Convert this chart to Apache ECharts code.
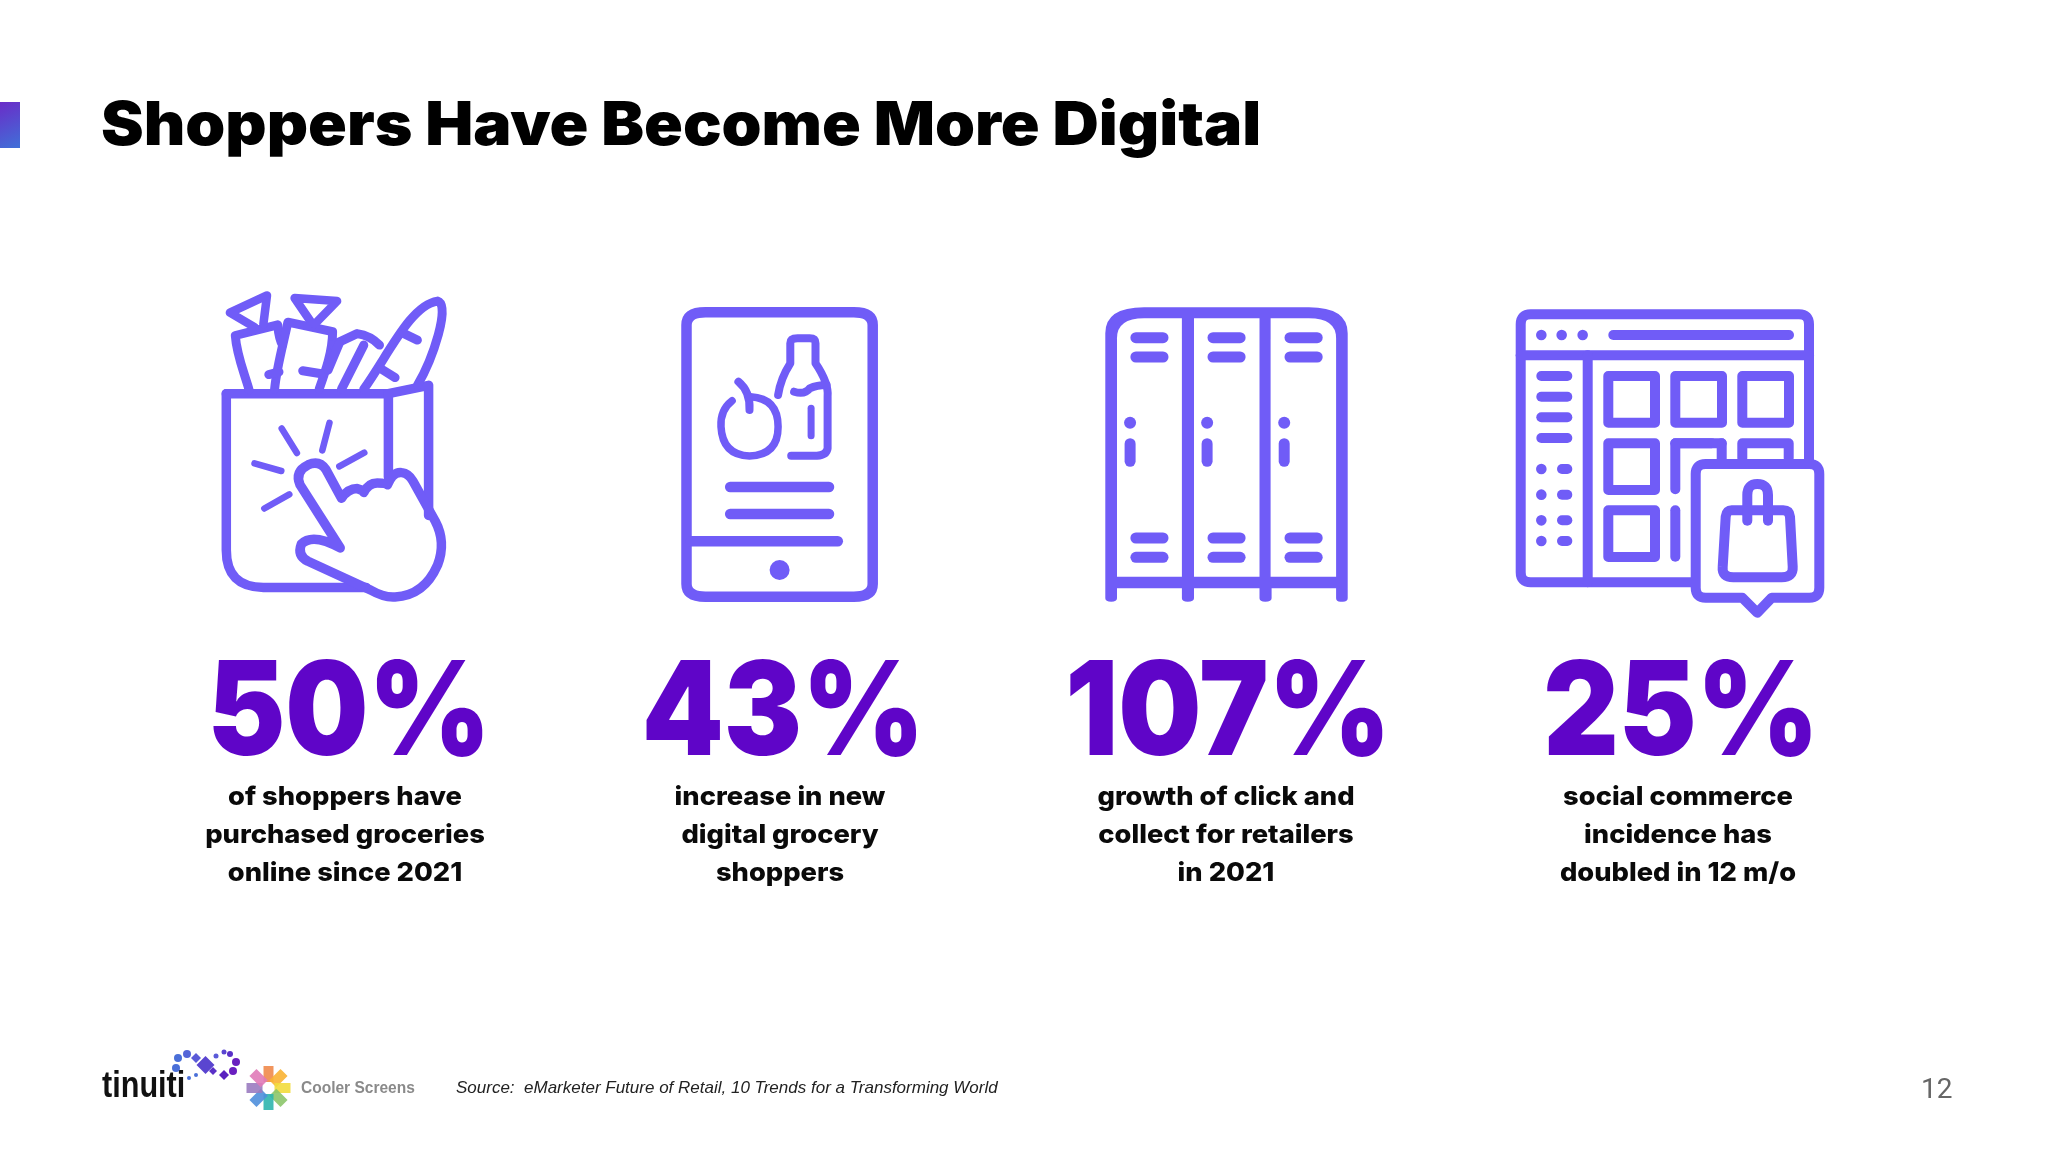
<!DOCTYPE html>
<html>
<head>
<meta charset="utf-8">
<title>Shoppers Have Become More Digital</title>
<style>
  html, body { margin: 0; padding: 0; background: #fff; }
  #chart { width: 2048px; height: 1152px; }
</style>
<script src="https://cdn.jsdelivr.net/npm/echarts@6/dist/echarts.min.js"></script>
</head>
<body>
<div id="chart"></div>
<script>
const titleText = 'Shoppers Have Become More Digital';
const statValues = [50, 43, 107, 25];
const statCaptions = [
  ['of shoppers have', 'purchased groceries', 'online since 2021'],
  ['increase in new', 'digital grocery', 'shoppers'],
  ['growth of click and', 'collect for retailers', 'in 2021'],
  ['social commerce', 'incidence has', 'doubled in 12 m/o']
];
const sourceText = 'Source:  eMarketer Future of Retail, 10 Trends for a Transforming World';
const pageNumber = '12';

const ICON = '#705cf7';
const NUM = '#5f05c8';
const els = [];

// icon paths were traced on crops, so map them back to page pixels
function mapPath(d, ox, oy, fx, fy) {
  let isX = true;
  return d.replace(/-?\d+(\.\d+)?/g, function (n) {
    const v = isX ? ox + n / fx : oy + n / fy;
    isX = !isX;
    return v.toFixed(1);
  });
}

function stroke(d, w, fill, box) {
  els.push({
    type: 'path',
    shape: { pathData: mapPath(d, box[0], box[1], box[2], box[3]) },
    style: { fill: fill || 'none', stroke: ICON, lineWidth: w, lineCap: 'round', lineJoin: 'round' }
  });
}

function solid(d, color, box) {
  els.push({
    type: 'path',
    shape: { pathData: mapPath(d, box[0], box[1], box[2], box[3]) },
    style: { fill: color }
  });
}

function dot(x, y, r, box, color) {
  els.push({
    type: 'circle',
    shape: { cx: box[0] + x / box[2], cy: box[1] + y / box[3], r: r },
    style: { fill: color || ICON }
  });
}

function text(str, x, y, font, fill, align, sx) {
  els.push({
    type: 'text',
    x: x,
    y: y,
    scaleX: sx || 1,
    style: { text: str, x: 0, y: 0, font: font, fill: fill, textAlign: align || 'center', textVerticalAlign: 'middle' }
  });
}

// corner block
els.push({
  type: 'rect',
  shape: { x: 0, y: 102, width: 20, height: 46 },
  style: {
    fill: new echarts.graphic.LinearGradient(0, 0, 1, 1, [
      { offset: 0, color: '#6a2cc8' },
      { offset: 1, color: '#4070d8' }
    ])
  }
});

text(titleText, 101, 127, '900 60px Inter', '#000', 'left', 1.068);

// bag icon
const bagBox = [0, 60, 2.24, 2.613];
stroke('M507 872 L507 1280 Q507 1378 590 1378 L820 1378', 9.5, null, bagBox);
stroke('M507 872 L870 872 L960 850 L960 1190', 9.5, null, bagBox);
stroke('M870 872 L870 1090', 9.5, null, bagBox);
stroke('M762 1275 L672 1110 Q660 1075 690 1058 Q715 1045 730 1070 L765 1145 Q780 1120 800 1120 Q815 1125 815 1130 Q825 1105 845 1105 Q865 1105 868 1110 Q880 1075 900 1078 Q915 1080 925 1100 L975 1205 Q1000 1260 980 1320 Q950 1400 885 1403 Q860 1405 830 1385 L690 1310 Q665 1295 675 1265 Q700 1235 762 1275', 9.5, null, bagBox);
['M631 963 L665 1027', 'M738 948 L722 1020', 'M816 1026 L760 1062', 'M570 1054 L630 1074', 'M648 1135 L592 1172'].forEach(function (d) {
  stroke(d, 6.5, null, bagBox);
});
stroke('M558 862 C545 810 530 770 527 720 L622 692 Q625 730 633 745', 9, null, bagBox);
stroke('M590 690 L598 615 L515 660 L570 698', 8.5, null, bagBox);
stroke('M615 860 C620 800 635 740 645 685 L745 710 C745 760 730 810 715 860', 9, null, bagBox);
stroke('M695 682 L660 622 L755 630 L705 690', 8.5, null, bagBox);
stroke('M678 812 L720 820', 9, null, bagBox);
stroke('M602 822 L625 815', 9, null, bagBox);
stroke('M745 745 L800 715 Q830 720 850 745', 9, null, bagBox);
stroke('M765 860 L815 745', 9, null, bagBox);
stroke('M760 740 L735 810', 9, null, bagBox);
stroke('M815 860 C870 770 920 640 980 630 C1010 640 970 780 935 850', 9, null, bagBox);
stroke('M905 715 L935 732', 9, null, bagBox);
stroke('M855 808 L885 830', 9, null, bagBox);

// tablet icon
const midBox = [640, 280, 2.063, 3];
stroke('M135 97 L441 97 Q480 97 480 135 L480 912 Q480 950 441 950 L135 950 Q96 950 96 912 L96 135 Q96 97 135 97 Z', 10.5, null, midBox);
stroke('M105 784 L408 784', 10.5, null, midBox);
stroke('M186 621 L390 621', 10.5, null, midBox);
stroke('M186 702 L390 702', 10.5, null, midBox);
dot(288, 870, 10, midBox);
stroke('M190 362 Q165 390 167 440 Q170 525 226 528 Q285 525 285 440 Q285 355 228 350', 7.5, null, midBox);
stroke('M203 305 Q228 335 226 390', 8, null, midBox);
stroke('M285 345 Q290 295 310 250 L310 190 Q310 175 325 175 L350 175 Q362 175 362 190 L362 250 Q390 310 387 350 L387 505 Q385 525 365 527 L312 527', 8, null, midBox);
stroke('M318 335 Q340 345 350 325 Q365 315 385 315', 8, null, midBox);
stroke('M353 385 L353 467', 7, null, midBox);

// locker icon
solid('M960 160 Q960 82 1040 82 L1380 82 Q1460 82 1460 160 L1460 955 Q1460 965 1450 965 L1445 965 Q1436 965 1436 955 L1436 925 L1303 925 L1303 955 Q1303 965 1290 965 Q1278 965 1278 955 L1278 925 L1143 925 L1143 955 Q1143 965 1130 965 Q1118 965 1118 955 L1118 925 L984 925 L984 955 Q984 965 972 965 Q960 965 960 955 Z', ICON, midBox);
solid('M984 175 Q984 115 1040 115 L1118 115 L1118 890 L984 890 Z', '#fff', midBox);
solid('M1143 115 L1278 115 L1278 890 L1143 890 Z', '#fff', midBox);
solid('M1301 115 L1380 115 Q1436 115 1436 175 L1436 890 L1301 890 Z', '#fff', midBox);
[0, 159, 318].forEach(function (dx) {
  [173, 231, 774, 832].forEach(function (y) {
    stroke('M' + (1023 + dx) + ' ' + y + ' L' + (1079 + dx) + ' ' + y, 11, null, midBox);
  });
  dot(1011 + dx, 428, 6, midBox);
  stroke('M' + (1011 + dx) + ' 491 L' + (1011 + dx) + ' 544', 11, null, midBox);
});

// store window icon
const storeBox = [1500, 280, 3, 3];
stroke('M92 103 L897 103 Q927 103 927 133 L927 877 Q927 907 897 907 L92 907 Q62 907 62 877 L62 133 Q62 103 92 103 Z', 10, null, storeBox);
stroke('M62 226 L927 226', 10, null, storeBox);
stroke('M263 226 L263 907', 10, null, storeBox);
[124, 185, 248].forEach(function (x) { dot(x, 165, 5.3, storeBox); });
stroke('M340 165 L867 165', 10, null, storeBox);
[288, 350, 412, 474].forEach(function (y) {
  stroke('M124 ' + y + ' L202 ' + y, 10, null, storeBox);
});
[567, 644, 721, 783].forEach(function (y) {
  dot(124, y, 5.3, storeBox);
  stroke('M186 ' + y + ' L202 ' + y, 10, null, storeBox);
});
[[325, 288], [526, 288], [727, 288], [325, 490], [325, 691]].forEach(function (p) {
  const x0 = p[0], y0 = p[1], x1 = x0 + 140, y1 = y0 + 140;
  stroke('M' + x0 + ' ' + y0 + ' L' + x1 + ' ' + y0 + ' L' + x1 + ' ' + y1 + ' L' + x0 + ' ' + y1 + ' Z', 10, null, storeBox);
});
stroke('M526 628 L526 490 L635 490', 10, null, storeBox);
stroke('M665 490 L665 535', 10, null, storeBox);
stroke('M526 490 L665 490', 10, null, storeBox);
stroke('M727 535 L727 490 L866 490 L866 535', 10, null, storeBox);
stroke('M526 691 L526 830', 10, null, storeBox);
stroke('M617 552 L928 552 Q958 552 958 582 L958 923 Q958 953 928 953 L815 953 L772 998 L727 953 L617 953 Q587 953 587 923 L587 582 Q587 552 617 552 Z', 10, '#fff', storeBox);
stroke('M742 700 L742 645 Q742 612 772 612 Q804 612 804 645 L804 700', 10, null, storeBox);
stroke('M695 691 L850 691 Q868 691 870 710 L878 860 Q880 892 845 892 L700 892 Q665 892 668 860 L677 710 Q680 691 695 691 Z', 10, null, storeBox);
stroke('M742 695 L742 722', 10, null, storeBox);
stroke('M804 695 L804 722', 10, null, storeBox);

// stat numbers and captions
const statCenters = [349, 783, 1228, 1681];
const captionCenters = [345, 780, 1226, 1678];
const captionY = [797, 835, 873];
statValues.forEach(function (v, i) {
  text(v + '%', statCenters[i], 716, '900 130px Inter', NUM, 'center', 0.9);
  statCaptions[i].forEach(function (line, j) {
    text(line, captionCenters[i], captionY[j], '800 26px Inter', '#0a0a0a', 'center', 1.05);
  });
});

// footer logos
text('tinuiti', 102, 1087, '700 36px "Liberation Sans"', '#111', 'left', 0.85);
const logoBox = [0, 0, 1, 1];
[[176, 1068, 4, '#4a6fd8'], [178, 1058, 4, '#4a6fd8'], [187, 1054, 4, '#5566d8'], [216, 1056, 2.5, '#5a5ad8'],
  [224, 1052, 2.5, '#5a45d0'], [230, 1054, 3, '#5a30c8'], [236, 1062, 4, '#6a1fc0'], [233, 1071, 4, '#6a1fc0'],
  [196, 1075, 2, '#4a6fd8'], [189, 1078, 2, '#4a6fd8']].forEach(function (c) {
  dot(c[0], c[1], c[2], logoBox, c[3]);
});
[[196, 1058, 5, '#5a5ad8'], [205.5, 1065, 9, '#5a45d0'], [224, 1075, 5, '#5a20c0'], [213, 1071, 4, '#5a30c8']].forEach(function (c) {
  solid('M' + c[0] + ' ' + (c[1] - c[2]) + ' L' + (c[0] + c[2]) + ' ' + c[1] + ' L' + c[0] + ' ' + (c[1] + c[2]) + ' L' + (c[0] - c[2]) + ' ' + c[1] + ' Z', c[3], logoBox);
});

['#f08a4b', '#f9b233', '#f2dc3c', '#8cc56a', '#2fb5ae', '#4f8fdc', '#9a7bc0', '#e07ab8'].forEach(function (color, i) {
  els.push({
    type: 'group',
    x: 268.5,
    y: 1088,
    rotation: -i * Math.PI / 4,
    children: [{
      type: 'rect',
      shape: { x: -5, y: -22, width: 10, height: 16 },
      style: { fill: color, opacity: 0.9 }
    }]
  });
});
text('Cooler Screens', 301, 1089, '700 16px "Liberation Sans"', '#8a8a8a', 'left', 0.97);

text(sourceText, 456, 1088, 'italic 17px "Liberation Sans"', '#222', 'left', 1);
text(pageNumber, 1921, 1091, '400 28px Roboto', '#666', 'left', 1);

const chart = echarts.init(document.getElementById('chart'));
chart.setOption({
  backgroundColor: '#fff',
  animation: false,
  series: [{
    type: 'custom',
    coordinateSystem: 'none',
    silent: true,
    data: [0],
    renderItem: function () {
      return { type: 'group', children: els };
    }
  }]
});
</script>
</body>
</html>
